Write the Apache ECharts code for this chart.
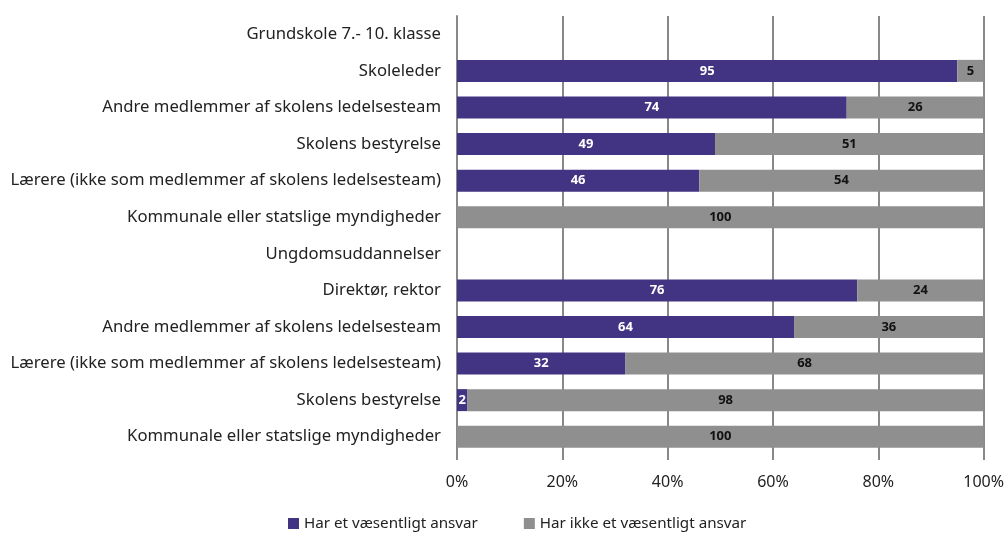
<!DOCTYPE html>
<html>
<head>
<meta charset="utf-8">
<script src="https://cdn.jsdelivr.net/npm/echarts@6/dist/echarts.min.js"></script>
<style>
  html, body { margin: 0; padding: 0; background: #fff; }
  #chart { width: 1007px; height: 536px; }
</style>
</head>
<body>
<div id="chart"></div>
<script>
  // categories top to bottom, as in the picture
  var categories = [
    'Grundskole 7.- 10. klasse',
    'Skoleleder',
    'Andre medlemmer af skolens ledelsesteam',
    'Skolens bestyrelse',
    'Lærere (ikke som medlemmer af skolens ledelsesteam)',
    'Kommunale eller statslige myndigheder',
    'Ungdomsuddannelser',
    'Direktør, rektor',
    'Andre medlemmer af skolens ledelsesteam',
    'Lærere (ikke som medlemmer af skolens ledelsesteam)',
    'Skolens bestyrelse',
    'Kommunale eller statslige myndigheder'
  ]
  var harAnsvar = [null, 95, 74, 49, 46, 0, null, 76, 64, 32, 2, 0]
  var harIkkeAnsvar = [null, 5, 26, 51, 54, 100, null, 24, 36, 68, 98, 100]
  var xTicks = [0, 20, 40, 60, 80, 100]

  var purple = '#433483'
  var grey = '#8f8f8f'
  var font = 'Noto Sans'

  var labelFmt = function (p) {
    return (p.value === null || p.value === 0) ? '' : String(p.value)
  }

  var chart = echarts.init(document.getElementById('chart'))
  var option = {
    animation: false,
    textStyle: { fontFamily: font },
    grid: { left: 457, right: 20, top: 16, bottom: 81, containLabel: false },
    legend: {
      bottom: 0,
      left: 283,
      itemWidth: 11,
      itemHeight: 11,
      itemGap: 46,
      itemTextGap: 3,
      icon: 'rect',
      textStyle: { fontFamily: font, fontSize: 15.2, color: '#222' },
      data: ['Har et væsentligt ansvar', 'Har ikke et væsentligt ansvar']
    },
    xAxis: {
      type: 'value',
      min: 0,
      max: 100,
      interval: 20,
      axisLine: { show: false },
      axisTick: { show: true, length: 5, lineStyle: { color: '#888', width: 2 } },
      splitLine: { show: true, lineStyle: { color: '#888', width: 2 } },
      axisLabel: {
        fontFamily: font,
        fontSize: 16,
        color: '#222',
        margin: 19,
        formatter: function (v) { return xTicks.indexOf(v) >= 0 ? v + '%' : '' }
      }
    },
    yAxis: {
      type: 'category',
      inverse: true,
      data: categories,
      axisLine: { show: true, lineStyle: { color: '#888', width: 2 } },
      axisTick: { show: false },
      axisLabel: { fontFamily: font, fontSize: 16.7, color: '#222', margin: 16 }
    },
    series: [
      {
        name: 'Har et væsentligt ansvar',
        type: 'bar',
        stack: 'total',
        barWidth: 22,
        itemStyle: { color: purple },
        label: {
          show: true,
          position: 'inside',
          color: '#fff',
          fontFamily: font,
          fontWeight: 'bold',
          fontSize: 13,
          formatter: labelFmt
        },
        data: harAnsvar
      },
      {
        name: 'Har ikke et væsentligt ansvar',
        type: 'bar',
        stack: 'total',
        barWidth: 22,
        itemStyle: { color: grey },
        label: {
          show: true,
          position: 'inside',
          color: '#111',
          fontFamily: font,
          fontWeight: 'bold',
          fontSize: 13,
          formatter: labelFmt
        },
        data: harIkkeAnsvar
      }
    ]
  }
  chart.setOption(option)
</script>
</body>
</html>
